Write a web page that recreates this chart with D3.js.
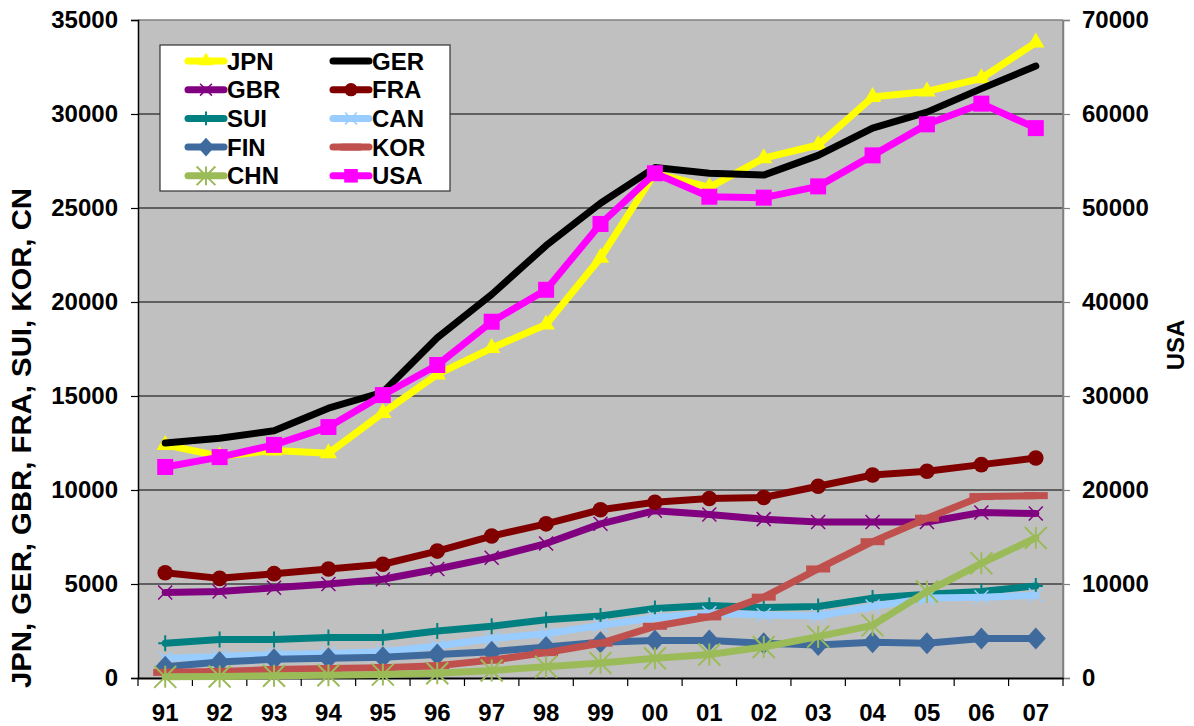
<!DOCTYPE html>
<html><head><meta charset="utf-8">
<script src="https://cdn.jsdelivr.net/npm/d3@7"></script>
<style>
html,body{margin:0;padding:0;background:#fff;}
svg text{font-family:"Liberation Sans",Arial,sans-serif;font-weight:bold;}
</style></head>
<body>
<svg id="chart" width="1194" height="726"></svg>
<script>
const years = ["91","92","93","94","95","96","97","98","99","00","01","02","03","04","05","06","07"];
const leftTicks = [0,5000,10000,15000,20000,25000,30000,35000];
const rightTicks = [0,10000,20000,30000,40000,50000,60000,70000];
const JPN = [12400,11800,12100,11950,14100,16150,17550,18800,22350,26850,26100,27650,28350,30900,31200,31900,33800];
const GER = [12500,12750,13150,14350,15200,18100,20400,23000,25250,27150,26850,26750,27800,29250,30100,31350,32550];
const GBR = [4550,4600,4800,5000,5250,5800,6400,7150,8200,8900,8700,8450,8300,8300,8300,8800,8750];
const FRA = [5600,5300,5550,5800,6050,6750,7550,8200,8950,9350,9550,9600,10200,10800,11000,11350,11700];
const SUI = [1850,2050,2050,2150,2150,2500,2750,3100,3300,3700,3850,3750,3800,4250,4450,4600,4900];
const CAN = [1050,1150,1250,1300,1400,1700,2100,2350,2800,3200,3450,3350,3300,3800,4250,4300,4400];
const FIN = [600,850,1000,1050,1100,1250,1400,1650,1900,2000,2000,1850,1750,1900,1850,2100,2100];
const KOR = [300,350,450,500,550,650,950,1350,1850,2750,3250,4300,5800,7250,8500,9650,9700];
const CHN = [60,80,120,150,180,250,400,600,800,1050,1250,1650,2200,2800,4600,6100,7450];
const USA = [22450,23500,24800,26700,30100,33300,37900,41300,48300,53700,51200,51100,52300,55600,58900,61100,58500];

const seriesNames = ["JPN","GER","GBR","FRA","SUI","CAN","FIN","KOR","CHN","USA"];
const seriesData = {JPN,GER,GBR,FRA,SUI,CAN,FIN,KOR,CHN,USA};
const colors = {JPN:"#FFFF00",GER:"#000000",GBR:"#800080",FRA:"#800000",SUI:"#008080",CAN:"#99CCFF",FIN:"#3F6A9E",KOR:"#C0504D",CHN:"#9BBB59",USA:"#FF00FF"};
const markers = {JPN:"triangle",GER:"none",GBR:"x",FRA:"circle",SUI:"plus",CAN:"x",FIN:"diamond",KOR:"dash",CHN:"star",USA:"square"};

const svg = d3.select("#chart");
const L=138, R=1063, T=20, B=678;
const FS = 24;
const x = d3.scaleBand().domain(years).range([L,R]);
const xc = d => x(d) + x.bandwidth()/2;
const yL = d3.scaleLinear().domain([0,35000]).range([B,T]);
const yR = d3.scaleLinear().domain([0,70000]).range([B,T]);

svg.append("rect").attr("x",L).attr("y",T).attr("width",R-L).attr("height",B-T).attr("fill","#C0C0C0");
svg.append("g").selectAll("line").data(leftTicks.filter(v=>v>0 && v<35000)).join("line")
  .attr("x1",L).attr("x2",R).attr("y1",d=>yL(d)).attr("y2",d=>yL(d)).attr("stroke","#000").attr("stroke-width",1.2);
svg.append("line").attr("x1",L).attr("x2",R).attr("y1",T).attr("y2",T).attr("stroke","#808080").attr("stroke-width",1.5);
svg.append("line").attr("x1",R).attr("x2",R).attr("y1",T).attr("y2",B).attr("stroke","#808080").attr("stroke-width",1.5);

const gl = svg.append("g").attr("transform",`translate(${L},0)`)
  .call(d3.axisLeft(yL).tickValues(leftTicks).tickFormat(d3.format("d")).tickSize(7).tickPadding(13));
gl.select(".domain").attr("stroke","#000").attr("stroke-width",1.5);
gl.selectAll(".tick line").attr("stroke","#000").attr("stroke-width",1.2);
gl.selectAll("text").attr("font-size",FS).attr("fill","#000");

const gr = svg.append("g").attr("transform",`translate(${R},0)`)
  .call(d3.axisRight(yR).tickValues(rightTicks).tickFormat(d3.format("d")).tickSize(7).tickPadding(12));
gr.select(".domain").attr("stroke","#808080").attr("stroke-width",1.5);
gr.selectAll(".tick line").attr("stroke","#808080").attr("stroke-width",1.2);
gr.selectAll("text").attr("font-size",FS).attr("fill","#000");

const gb = svg.append("g").attr("transform",`translate(0,${B})`)
  .call(d3.axisBottom(x).tickSize(0).tickPadding(26));
gb.select(".domain").attr("stroke","#000").attr("stroke-width",2);
gb.selectAll("text").attr("font-size",FS).attr("fill","#000");
const bounds = years.map(d=>x(d)).concat([R]);
svg.append("g").selectAll("line").data(bounds).join("line")
  .attr("x1",d=>d).attr("x2",d=>d).attr("y1",B).attr("y2",B+8).attr("stroke","#000").attr("stroke-width",1.2);

svg.append("text").attr("transform","translate(31,438) rotate(-90)").attr("text-anchor","middle")
  .attr("font-size",27).attr("textLength",500).attr("lengthAdjust","spacingAndGlyphs")
  .text("JPN, GER, GBR, FRA, SUI, KOR, CN");
svg.append("text").attr("transform","translate(1184,345) rotate(-90)").attr("text-anchor","middle")
  .attr("font-size",FS).text("USA");

function drawMarker(g, type, color, cx, cy, legend){
  const s = legend ? 0.85 : 1;
  switch(type){
    case "triangle":
      g.append("path").attr("d",d3.symbol(d3.symbolTriangle, 130*s*s)()).attr("transform",`translate(${cx},${cy})`).attr("fill",color);
      break;
    case "square":
      g.append("rect").attr("x",cx-8*s).attr("y",cy-8*s).attr("width",16*s).attr("height",16*s).attr("fill",color);
      break;
    case "circle":
      g.append("circle").attr("cx",cx).attr("cy",cy).attr("r",7.8*s).attr("fill",color);
      break;
    case "diamond":
      g.append("path").attr("d",`M${cx},${cy-11*s}L${cx+10*s},${cy}L${cx},${cy+11*s}L${cx-10*s},${cy}Z`).attr("fill",color);
      break;
    case "x":
      g.append("path").attr("d",`M${cx-7*s},${cy-7*s}L${cx+7*s},${cy+7*s}M${cx-7*s},${cy+7*s}L${cx+7*s},${cy-7*s}`).attr("stroke",color).attr("stroke-width",1.5).attr("fill","none");
      break;
    case "plus":
      g.append("path").attr("d",`M${cx},${cy-8*s}L${cx},${cy+8*s}M${cx-7*s},${cy}L${cx+7*s},${cy}`).attr("stroke",color).attr("stroke-width",2).attr("fill","none");
      break;
    case "star":
      g.append("path").attr("d",`M${cx-11*s},${cy-11*s}L${cx+11*s},${cy+11*s}M${cx-11*s},${cy+11*s}L${cx+11*s},${cy-11*s}M${cx},${cy-11*s}L${cx},${cy+11*s}`).attr("stroke",color).attr("stroke-width",2).attr("fill","none");
      break;
    case "dash":
      g.append("rect").attr("x",cx-12*s).attr("y",cy-3.5).attr("width",24*s).attr("height",7).attr("fill",color);
      break;
  }
}

const line = d3.line().x((d,i)=>xc(years[i]));
seriesNames.forEach(name=>{
  const vals = seriesData[name];
  const ys = name==="USA" ? yR : yL;
  const g = svg.append("g");
  g.append("path").datum(vals)
    .attr("d", line.y(d=>ys(d)))
    .attr("fill","none").attr("stroke",colors[name]).attr("stroke-width",7)
    .attr("stroke-linejoin","round").attr("stroke-linecap","round");
  vals.forEach((v,i)=>drawMarker(g, markers[name], colors[name], xc(years[i]), ys(v), false));
});

const lg = svg.append("g");
lg.append("rect").attr("x",160).attr("y",45).attr("width",290).attr("height",146).attr("fill","#fff").attr("stroke","#333").attr("stroke-width",1.2);
seriesNames.forEach((name,i)=>{
  const col = i%2, row = Math.floor(i/2);
  const lx = col===0 ? 188 : 333;
  const ly = 61 + row*28.7;
  lg.append("line").attr("x1",lx).attr("x2",lx+36).attr("y1",ly).attr("y2",ly)
    .attr("stroke",colors[name]).attr("stroke-width",7).attr("stroke-linecap","round");
  drawMarker(lg, markers[name], colors[name], lx+18, ly, true);
  lg.append("text").attr("x",lx+39).attr("y",ly).attr("dy","0.36em").attr("font-size",FS).text(name);
});
</script>
</body></html>
